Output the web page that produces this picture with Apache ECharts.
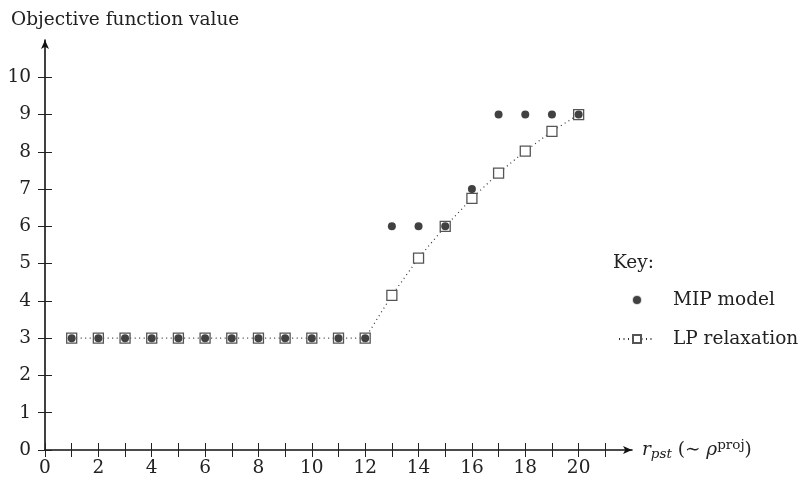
<!DOCTYPE html>
<html><head><meta charset="utf-8">
<script src="https://cdn.jsdelivr.net/npm/echarts@6/dist/echarts.min.js"></script>
<style>html,body{margin:0;padding:0;background:#fff}#c{width:805px;height:486px}</style>
</head><body><div id="c"></div>
<script>
const xValues = [1,2,3,4,5,6,7,8,9,10,11,12,13,14,15,16,17,18,19,20];
const mipValues = [3,3,3,3,3,3,3,3,3,3,3,3,6,6,6,7,9,9,9,9];
const lpValues = [3,3,3,3,3,3,3,3,3,3,3,3,4.15,5.15,6,6.75,7.43,8.02,8.55,9];
const xTicks = [0,1,2,3,4,5,6,7,8,9,10,11,12,13,14,15,16,17,18,19,20,21];
const xTickLabels = [0,2,4,6,8,10,12,14,16,18,20];
const yTicks = [0,1,2,3,4,5,6,7,8,9,10];

const FONT = "'DejaVu Serif', serif";
const FS = 18.5;
const TXT = '#222';
const chart = echarts.init(document.getElementById('c'));
const axisLine = {show:true, onZero:false, lineStyle:{color:'#111', width:1.6}, symbol:['none','arrow'], symbolSize:[6,9]};
const tickStyle = {color:'#222', width:1};
chart.setOption({
  animation:false,
  textStyle:{fontFamily:FONT},
  grid:{left:45, right:173, top:40, bottom:36, containLabel:false},
  graphic:[
    {type:'text', left:11, top:11, style:{text:'Objective function value', font:FS+"px 'DejaVu Serif'", fill:TXT}},
    {type:'text', left:613, top:254, style:{text:'Key:', font:FS+"px 'DejaVu Serif'", fill:TXT}}
  ],
  legend:{
    orient:'vertical', left:618, top:290, padding:0, itemGap:19, itemWidth:36, itemHeight:10,
    textStyle:{fontFamily:FONT, fontSize:FS, color:TXT, lineHeight:20, padding:[0,0,0,13]},
    data:[
      {name:'MIP model', icon:'circle', itemStyle:{color:'#111', borderColor:'#fff', borderWidth:2}},
      {name:'LP relaxation'}
    ]
  },
  xAxis:[{
    type:'value', min:0, max:22,
    axisLine:axisLine,
    axisTick:{show:true, length:7, customValues:xTicks, lineStyle:tickStyle},
    axisLabel:{customValues:xTickLabels, margin:9, fontFamily:FONT, fontSize:FS, color:TXT},
    splitLine:{show:false},
    name:'{it|r}{sub|pst}{n| (∼ }{it|ρ}{sup|proj}{n|)}',
    nameLocation:'end', nameGap:10,
    nameTextStyle:{fontFamily:FONT, fontSize:FS, color:TXT, verticalAlign:'middle',
      rich:{
        it:{fontStyle:'italic', fontFamily:FONT, fontSize:FS, color:TXT},
        n:{fontFamily:FONT, fontSize:FS, color:TXT},
        sub:{fontStyle:'italic', fontFamily:FONT, fontSize:13.5, color:TXT, padding:[8,0,0,0]},
        sup:{fontFamily:FONT, fontSize:13.5, color:TXT, padding:[0,0,9,0]}
      }}
  },{
    type:'value', min:0, max:22, position:'bottom',
    axisLine:{show:false, onZero:false},
    axisTick:{show:true, inside:true, length:7, customValues:xTicks, lineStyle:tickStyle},
    axisLabel:{show:false}, splitLine:{show:false}
  }],
  yAxis:[{
    type:'value', min:0, max:11, position:'left',
    axisLine:axisLine,
    axisTick:{show:true, length:7, customValues:yTicks, lineStyle:tickStyle},
    axisLabel:{customValues:yTicks, margin:14, fontFamily:FONT, fontSize:FS, color:TXT},
    splitLine:{show:false}
  },{
    type:'value', min:0, max:11, position:'left',
    axisLine:{show:false, onZero:false},
    axisTick:{show:true, inside:true, length:7, customValues:yTicks, lineStyle:tickStyle},
    axisLabel:{show:false}, splitLine:{show:false}
  }],
  series:[
    {name:'LP relaxation', type:'line', xAxisIndex:0, yAxisIndex:0,
     data:xValues.map((x,i)=>[x, lpValues[i]]),
     symbol:'rect', symbolSize:10, showAllSymbol:true,
     lineStyle:{type:[1,3.5], color:'#333', width:1.2},
     itemStyle:{color:'#fff', borderColor:'#555', borderWidth:1.3}, z:2},
    {name:'MIP model', type:'scatter', xAxisIndex:0, yAxisIndex:0,
     data:xValues.map((x,i)=>[x, mipValues[i]]),
     symbol:'circle', symbolSize:8, itemStyle:{color:'#111'}, z:3}
  ]
});
</script></body></html>
